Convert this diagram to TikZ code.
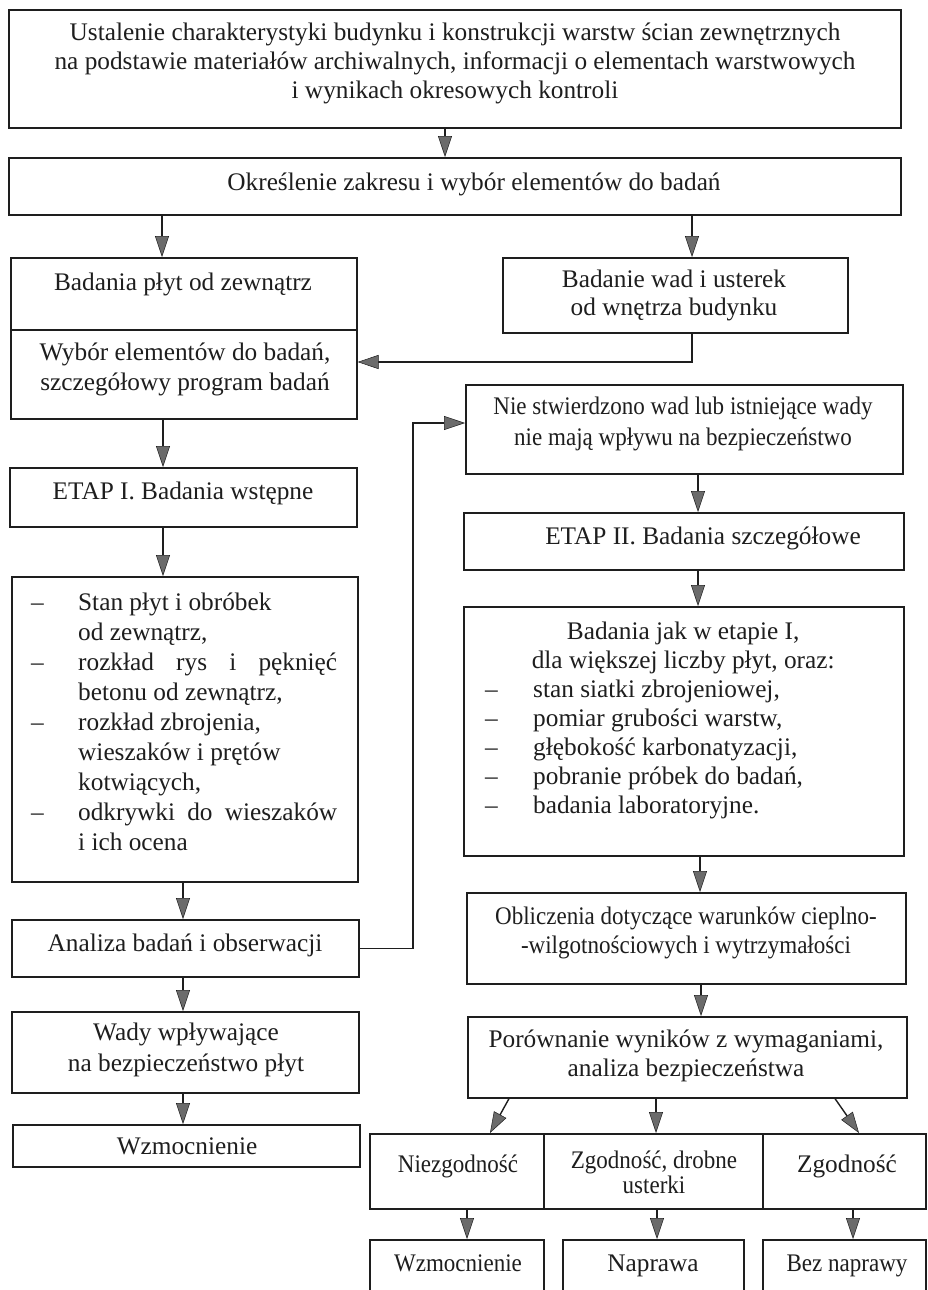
\documentclass[tikz,border=0pt]{standalone}
\usepackage{fontspec}
\setmainfont{Liberation Serif}
\newfontfamily\cnd[FakeStretch=0.91]{Liberation Serif}
\usetikzlibrary{arrows.meta}
\definecolor{lc}{HTML}{1E1E1E}
\definecolor{af}{HTML}{6B6B6B}
\tikzset{
  box/.style={draw=lc, line width=1.6pt, inner sep=0pt, anchor=north west},
  txt/.style={inner sep=0pt, align=center, text=lc, font=\fontsize{25.3}{29.5}\selectfont},
  ctxt/.style={inner sep=0pt, align=center, text=lc, font={\cnd\fontsize{25.3}{29.5}\selectfont}},
  arr/.style={draw=lc, line width=1.4pt, -{Triangle[width=14pt,length=21pt,fill=af,color=lc,line width=0.5pt]}},
  ln/.style={draw=lc, line width=1.4pt}
}
\begin{document}
\begin{tikzpicture}[x=1pt,y=-1pt]
\fill[white] (0,0) rectangle (928,1290);
\useasboundingbox (0,0) rectangle (928,1290);

% boxes
\node[box, minimum width=892pt, minimum height=118pt] (box1) at (8,9) {};
\node[box, minimum width=892pt, minimum height=57pt] (box2) at (8,157) {};
\node[box, minimum width=346pt, minimum height=72pt] (badplyt) at (10,257) {};
\node[box, minimum width=346pt, minimum height=89pt] (wybor) at (10,329) {};
\node[box, minimum width=345pt, minimum height=75pt] (badwad) at (502,257) {};
\node[box, minimum width=437pt, minimum height=89pt] (nie) at (465,384) {};
\node[box, minimum width=347pt, minimum height=59pt] (etap1) at (9,467) {};
\node[box, minimum width=346pt, minimum height=305pt] (list1) at (11,576) {};
\node[box, minimum width=440pt, minimum height=57pt] (etap2) at (463,512) {};
\node[box, minimum width=440pt, minimum height=249pt] (list2) at (463,606) {};
\node[box, minimum width=439pt, minimum height=91pt] (oblicz) at (466,892) {};
\node[box, minimum width=347pt, minimum height=57pt] (analiza) at (11,919) {};
\node[box, minimum width=347pt, minimum height=81pt] (wady) at (11,1011) {};
\node[box, minimum width=347pt, minimum height=42pt] (wzm1) at (12,1124) {};
\node[box, minimum width=439pt, minimum height=81pt] (porown) at (467,1016) {};
\node[box, minimum width=174pt, minimum height=75pt] (niezg) at (369,1133) {};
\node[box, minimum width=219pt, minimum height=75pt] (zgdrob) at (543,1133) {};
\node[box, minimum width=163pt, minimum height=75pt] (zgod) at (762,1133) {};
\node[box, minimum width=174pt, minimum height=62pt] (wzm2) at (369,1239) {};
\node[box, minimum width=181pt, minimum height=62pt] (naprawa) at (562,1239) {};
\node[box, minimum width=163pt, minimum height=62pt] (bez) at (762,1239) {};

% texts
\node[txt, font=\fontsize{25.3}{29}\selectfont] (t1) at (455,63) {Ustalenie charakterystyki budynku i konstrukcji warstw ścian zewnętrznych\\ na podstawie materiałów archiwalnych, informacji o elementach warstwowych\\ i wynikach okresowych kontroli};
\node[txt, anchor=base] (t2) at (474,190) {Określenie zakresu i wybór elementów do badań};
\node[txt, anchor=base] (t3) at (183,290) {Badania płyt od zewnątrz};
\node[txt, font=\fontsize{25.3}{30}\selectfont] (t4) at (185,369) {Wybór elementów do badań,\\ szczegółowy program badań};
\node[txt, font=\fontsize{25.3}{28}\selectfont] (t5) at (674,295) {Badanie wad i usterek\\ od wnętrza budynku};
\node[ctxt, font={\cnd\fontsize{25.3}{31}\selectfont}] (t6) at (683,424) {Nie stwierdzono wad lub istniejące wady\\ nie mają wpływu na bezpieczeństwo};
\node[txt, anchor=base] (t7) at (183,499) {ETAP I. Badania wstępne};
\node[txt, anchor=base] (t8) at (703,544) {ETAP II. Badania szczegółowe};
\node[txt, anchor=north west, align=left, font=\fontsize{25.3}{30}\selectfont] (t9) at (31,589) {%
\begin{tabular}{@{}p{47pt}@{}l@{}}
-- & Stan płyt i obróbek\\
 & od zewnątrz,\\
-- & \makebox[259pt][s]{rozkład rys i pęknięć}\\
 & betonu od zewnątrz,\\
-- & rozkład zbrojenia,\\
 & wieszaków i prętów\\
 & kotwiących,\\
-- & \makebox[259pt][s]{odkrywki do wieszaków}\\
 & i ich ocena
\end{tabular}};
\node[txt, anchor=north west, align=left, font=\fontsize{25.3}{29}\selectfont] (t10) at (485,618.7) {%
\begin{tabular}{@{}p{48pt}@{}p{348pt}@{}}
\multicolumn{2}{@{}c@{}}{Badania jak w etapie I,}\\
\multicolumn{2}{@{}c@{}}{dla większej liczby płyt, oraz:}\\
-- & stan siatki zbrojeniowej,\\
-- & pomiar grubości warstw,\\
-- & głębokość karbonatyzacji,\\
-- & pobranie próbek do badań,\\
-- & badania laboratoryjne.
\end{tabular}};
\node[ctxt, font={\cnd\fontsize{25.3}{29}\selectfont}] (t11) at (686,933) {Obliczenia dotyczące warunków cieplno-\\ -wilgotnościowych i wytrzymałości};
\node[txt, anchor=base] (t12) at (185,951) {Analiza badań i obserwacji};
\node[txt, font=\fontsize{25.3}{31}\selectfont] (t13) at (186,1050) {Wady wpływające\\ na bezpieczeństwo płyt};
\node[txt, anchor=base] (t14) at (187,1154) {Wzmocnienie};
\node[txt, font=\fontsize{25.3}{29}\selectfont] (t15) at (686,1056) {Porównanie wyników z wymaganiami,\\ analiza bezpieczeństwa};
\node[ctxt, anchor=base] (t16) at (458,1172) {Niezgodność};
\node[ctxt, font={\cnd\fontsize{25.3}{25}\selectfont}] (t17) at (654,1172) {Zgodność, drobne\\ usterki};
\node[txt, anchor=base] (t18) at (847,1172) {Zgodność};
\node[ctxt, anchor=base] (t19) at (458,1271) {Wzmocnienie};
\node[txt, anchor=base] (t20) at (653,1271) {Naprawa};
\node[ctxt, anchor=base] (t21) at (847,1271) {Bez naprawy};

% x / y guides for connectors
\coordinate (xa) at (445,0);
\coordinate (xb) at (162,0);
\coordinate (xc) at (692,0);
\coordinate (xd) at (163,0);
\coordinate (xe) at (183,0);
\coordinate (xf) at (413,0);
\coordinate (xg) at (698,0);
\coordinate (xh) at (700,0);
\coordinate (xi) at (701,0);
\coordinate (xj) at (656,0);
\coordinate (xk) at (467,0);
\coordinate (xl) at (657,0);
\coordinate (xm) at (853,0);
\coordinate (d1) at (509,0);
\coordinate (d2) at (490,0);
\coordinate (d3) at (835,0);
\coordinate (d4) at (859,0);
\coordinate (ya) at (0,362);
\coordinate (yb) at (0,423);

% connectors
\draw[arr] (xa |- box1.south) -- (xa |- box2.north);
\draw[arr] (xb |- box2.south) -- (xb |- badplyt.north);
\draw[arr] (xc |- box2.south) -- (xc |- badwad.north);
\draw[arr] (xc |- badwad.south) |- (wybor.east |- ya);
\draw[arr] (xd |- wybor.south) -- (xd |- etap1.north);
\draw[arr] (xd |- etap1.south) -- (xd |- list1.north);
\draw[arr] (xe |- list1.south) -- (xe |- analiza.north);
\draw[arr] (analiza.east) -| (xf |- yb) -- (nie.west |- yb);
\draw[arr] (xe |- analiza.south) -- (xe |- wady.north);
\draw[arr] (xe |- wady.south) -- (xe |- wzm1.north);
\draw[arr] (xg |- nie.south) -- (xg |- etap2.north);
\draw[arr] (xg |- etap2.south) -- (xg |- list2.north);
\draw[arr] (xh |- list2.south) -- (xh |- oblicz.north);
\draw[arr] (xi |- oblicz.south) -- (xi |- porown.north);
\draw[arr] (d1 |- porown.south) -- (d2 |- niezg.north);
\draw[arr] (xj |- porown.south) -- (xj |- zgdrob.north);
\draw[arr] (d3 |- porown.south) -- (d4 |- zgod.north);
\draw[arr] (xk |- niezg.south) -- (xk |- wzm2.north);
\draw[arr] (xl |- zgdrob.south) -- (xl |- naprawa.north);
\draw[arr] (xm |- zgod.south) -- (xm |- bez.north);
\end{tikzpicture}
\end{document}
